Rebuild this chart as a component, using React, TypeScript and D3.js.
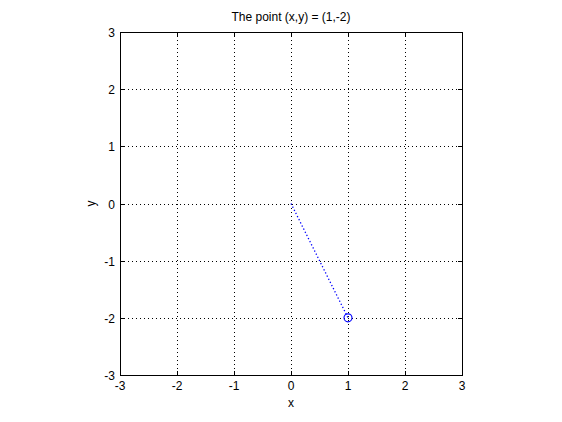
import React, { useEffect, useRef } from 'react';
import * as d3 from 'd3';

const xTicks = [-3, -2, -1, 0, 1, 2, 3];
const yTicks = [-3, -2, -1, 0, 1, 2, 3];
const lineX = [0, 1];
const lineY = [0, -2];
const pointX = [1];
const pointY = [-2];
const titleText = 'The point (x,y) = (1,-2)';

export default function App() {
  const ref = useRef<SVGSVGElement>(null);

  useEffect(() => {
    const width = 562;
    const height = 422;
    const left = 120, right = 462, top = 32, bottom = 375;
    const font = 'Liberation Sans, Arial, sans-serif';

    const svg = d3.select(ref.current);
    svg.selectAll('*').remove();

    svg.append('rect').attr('width', width).attr('height', height).attr('fill', '#fff');

    // scales
    const x = d3.scaleLinear().domain([-3, 3]).range([left, right]);
    const y = d3.scaleLinear().domain([-3, 3]).range([bottom, top]);

    // dotted grid
    const grid = svg.append('g').attr('stroke', '#000').attr('stroke-width', 1)
      .attr('stroke-dasharray', '1,3').attr('shape-rendering', 'crispEdges');
    xTicks.slice(1, -1).forEach(t => {
      grid.append('line').attr('x1', Math.round(x(t)) + 0.5).attr('x2', Math.round(x(t)) + 0.5)
        .attr('y1', top).attr('y2', bottom);
    });
    yTicks.slice(1, -1).forEach(t => {
      grid.append('line').attr('y1', Math.round(y(t)) + 0.5).attr('y2', Math.round(y(t)) + 0.5)
        .attr('x1', left).attr('x2', right);
    });

    // box
    svg.append('rect')
      .attr('x', left + 0.5).attr('y', top + 0.5)
      .attr('width', right - left).attr('height', bottom - top)
      .attr('fill', 'none').attr('stroke', '#000').attr('shape-rendering', 'crispEdges');

    // tick marks inward
    const tk = svg.append('g').attr('stroke', '#000').attr('shape-rendering', 'crispEdges');
    xTicks.forEach(t => {
      const px = Math.round(x(t)) + 0.5;
      tk.append('line').attr('x1', px).attr('x2', px).attr('y1', bottom).attr('y2', bottom - 4);
      tk.append('line').attr('x1', px).attr('x2', px).attr('y1', top).attr('y2', top + 4);
    });
    yTicks.forEach(t => {
      const py = Math.round(y(t)) + 0.5;
      tk.append('line').attr('y1', py).attr('y2', py).attr('x1', left).attr('x2', left + 4);
      tk.append('line').attr('y1', py).attr('y2', py).attr('x1', right).attr('x2', right - 4);
    });

    // tick labels
    svg.append('g').selectAll('text').data(xTicks).enter().append('text')
      .attr('x', d => x(d)).attr('y', bottom + 15)
      .attr('text-anchor', 'middle').attr('font-family', font).attr('font-size', 12)
      .text(d => String(d));
    svg.append('g').selectAll('text').data(yTicks).enter().append('text')
      .attr('x', left - 5).attr('y', d => y(d) + 5)
      .attr('text-anchor', 'end').attr('font-family', font).attr('font-size', 12)
      .text(d => String(d));

    // line and marker
    const pts: [number, number][] = lineX.map((v, i) => [v, lineY[i]]);
    svg.append('path')
      .attr('d', d3.line<[number, number]>().x(d => x(d[0])).y(d => y(d[1]))(pts))
      .attr('fill', 'none').attr('stroke', '#0000ff').attr('stroke-width', 1.3)
      .attr('stroke-dasharray', '1.3,2.2');
    svg.selectAll('circle.pt').data(pointX).enter().append('circle')
      .attr('cx', d => x(d)).attr('cy', (d, i) => y(pointY[i])).attr('r', 4)
      .attr('fill', 'none').attr('stroke', '#0000ff').attr('stroke-width', 1.1);

    // titles
    svg.append('text').attr('x', (left + right) / 2).attr('y', 21)
      .attr('text-anchor', 'middle').attr('font-family', font).attr('font-size', 12)
      .text(titleText);
    svg.append('text').attr('x', (left + right) / 2).attr('y', 407)
      .attr('text-anchor', 'middle').attr('font-family', font).attr('font-size', 12)
      .text('x');
    svg.append('text').attr('transform', `translate(95, ${(top + bottom) / 2}) rotate(-90)`)
      .attr('text-anchor', 'middle').attr('font-family', font).attr('font-size', 12)
      .text('y');
  }, []);

  return (
    <svg ref={ref} width={562} height={422}
      style={{ position: 'absolute', left: 0, top: 0, display: 'block' }} />
  );
}
